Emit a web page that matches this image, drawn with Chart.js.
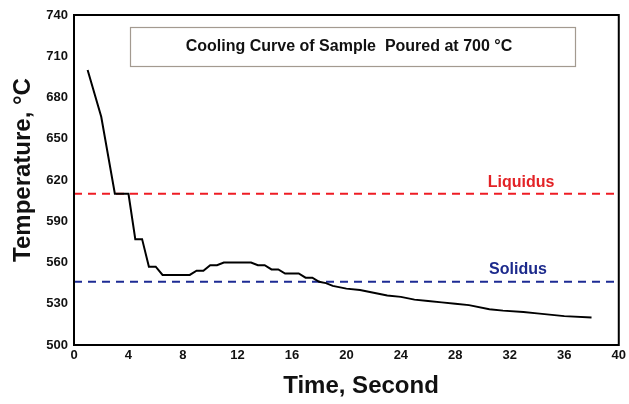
<!DOCTYPE html>
<html>
<head>
<meta charset="utf-8">
<script src="https://cdn.jsdelivr.net/npm/chart.js@4/dist/chart.umd.min.js"></script>
<style>
  html, body { margin: 0; padding: 0; background: #fff; }
  #wrap { width: 629px; height: 404px; }
</style>
</head>
<body>
<div id="wrap"><canvas id="chart" width="629" height="404"></canvas></div>
<script>
// time (s) and temperature (degC)
const times = [1, 2, 3, 4, 4.5, 5, 5.5, 6, 6.5, 8.5, 9, 9.5, 10, 10.5, 11, 13, 13.5, 14, 14.5, 15, 15.5, 16.5, 17, 17.5, 18, 18.5, 19, 20, 21, 22, 23, 24, 25, 26, 27, 28, 29, 30.5, 31.5, 33, 34, 36, 38];
const temps = [700, 666, 610, 610, 577, 577, 557, 557, 551, 551, 554, 554, 558, 558, 560, 560, 558, 558, 555, 555, 552, 552, 549, 549, 546, 545, 543, 541, 540, 538, 536, 535, 533, 532, 531, 530, 529, 526, 525, 524, 523, 521, 520];

const liquidus = 610;
const solidus = 546;
const xRange = [0, 40];
const yRange = [500, 740];
const xStep = 4;
const yStep = 30;

const titleText = 'Cooling Curve of Sample  Poured at 700 \u00b0C';
const xTitle = 'Time, Second';
const yTitle = 'Temperature, \u00b0C';

const FONT = '"Liberation Sans", Arial, sans-serif';

const curve = times.map((t, i) => ({ x: t, y: temps[i] }));

const decor = {
    id: 'decor',
    afterDraw(chart) {
        const { ctx, chartArea: a, scales } = chart;
        ctx.save();

        // frame
        ctx.strokeStyle = '#000';
        ctx.lineWidth = 2;
        ctx.strokeRect(a.left, a.top, a.right - a.left, a.bottom - a.top);

        // title box
        ctx.fillStyle = '#fff';
        ctx.fillRect(130, 27, 445, 39);
        ctx.strokeStyle = '#a39a90';
        ctx.lineWidth = 1.2;
        ctx.strokeRect(130.5, 27.5, 445, 39);
        ctx.fillStyle = '#111';
        ctx.font = 'bold 16px ' + FONT;
        ctx.textAlign = 'center';
        ctx.textBaseline = 'middle';
        ctx.fillText(titleText, 349, 47);

        // line labels
        ctx.font = 'bold 16px ' + FONT;
        ctx.fillStyle = '#e32226';
        ctx.fillText('Liquidus', 521, scales.y.getPixelForValue(liquidus) - 11);
        ctx.fillStyle = '#1c2a8c';
        ctx.fillText('Solidus', 518, scales.y.getPixelForValue(solidus) - 12);

        // axis titles
        ctx.fillStyle = '#111';
        ctx.font = 'bold 24px ' + FONT;
        ctx.fillText(xTitle, 361, 386);
        ctx.translate(23, 170);
        ctx.rotate(-Math.PI / 2);
        ctx.fillText(yTitle, 0, 0);

        ctx.restore();
    }
};

new Chart(document.getElementById('chart'), {
    type: 'line',
    data: {
        datasets: [
            {
                label: 'Cooling curve',
                data: curve,
                borderColor: '#000',
                borderWidth: 2,
                pointRadius: 0,
                tension: 0
            },
            {
                label: 'Liquidus',
                data: [{ x: xRange[0], y: liquidus }, { x: xRange[1], y: liquidus }],
                borderColor: '#ee1c24',
                borderWidth: 2,
                borderDash: [8, 6],
                pointRadius: 0
            },
            {
                label: 'Solidus',
                data: [{ x: xRange[0], y: solidus }, { x: xRange[1], y: solidus }],
                borderColor: '#1d2b94',
                borderWidth: 2,
                borderDash: [8, 6],
                pointRadius: 0
            }
        ]
    },
    options: {
        responsive: false,
        animation: false,
        layout: { padding: { top: 15, right: 0, left: 0, bottom: 0 } },
        plugins: {
            legend: { display: false },
            tooltip: { enabled: false }
        },
        scales: {
            x: {
                type: 'linear',
                min: xRange[0],
                max: xRange[1],
                grid: { display: false, drawTicks: false },
                border: { display: false },
                ticks: {
                    stepSize: xStep,
                    color: '#111',
                    padding: 3,
                    maxRotation: 0,
                    font: { family: FONT, size: 13, weight: 'bold' }
                },
                afterFit(scale) { scale.height = 59; }
            },
            y: {
                min: yRange[0],
                max: yRange[1],
                grid: { display: false, drawTicks: false },
                border: { display: false },
                ticks: {
                    stepSize: yStep,
                    color: '#111',
                    padding: 6,
                    font: { family: FONT, size: 13, weight: 'bold' }
                },
                afterFit(scale) { scale.width = 74; }
            }
        }
    },
    plugins: [decor]
});
</script>
</body>
</html>
